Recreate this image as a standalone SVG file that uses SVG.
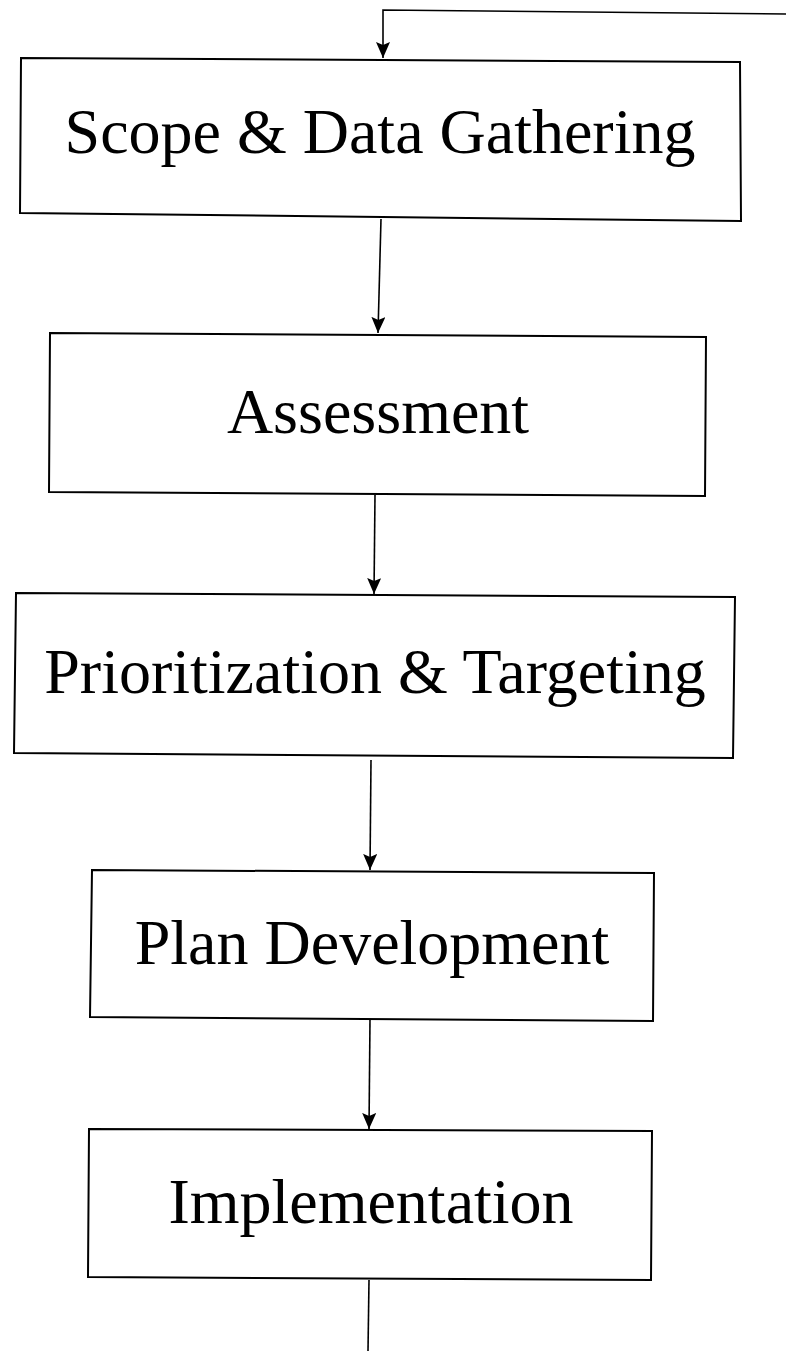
<svg xmlns="http://www.w3.org/2000/svg" width="786" height="1351" viewBox="0 0 786 1351">
  <style>
    .box { fill: #ffffff; stroke: #000000; stroke-width: 2; stroke-linejoin: miter; }
    .label { font-family: "Liberation Serif", "Times New Roman", serif; font-size: 64px; fill: #000000; text-anchor: middle; }
    .edge { fill: none; stroke: #000000; stroke-width: 1.6; }
  </style>
  <defs>
    <!-- filled arrowhead, 16 long and 14 wide -->
    <marker id="arrow" markerUnits="userSpaceOnUse" markerWidth="16" markerHeight="14" viewBox="0 0 16 14" refX="16" refY="7" orient="auto">
      <path d="M0,0 L16,7 L0,14 L3,7 Z" fill="#000000"/>
    </marker>
  </defs>
  <rect width="786" height="1351" fill="#ffffff"/>

  <g id="connectors">
    <polyline class="edge" points="786,14 383,10 383,58" marker-end="url(#arrow)"/>
    <line class="edge" x1="381" y1="219" x2="378" y2="333" marker-end="url(#arrow)"/>
    <line class="edge" x1="375" y1="495" x2="374" y2="594" marker-end="url(#arrow)"/>
    <line class="edge" x1="371" y1="760" x2="370" y2="870" marker-end="url(#arrow)"/>
    <line class="edge" x1="370" y1="1019" x2="369" y2="1129" marker-end="url(#arrow)"/>
    <line class="edge" x1="369" y1="1280" x2="368" y2="1351"/>
  </g>

  <g id="scope">
    <polygon class="box" points="21,58 740,62 741,221 20,213"/>
    <text class="label" x="380" y="153">Scope &amp; Data Gathering</text>
  </g>
  <g id="assessment">
    <polygon class="box" points="50,333 706,337 705,496 49,492"/>
    <text class="label" x="378" y="433">Assessment</text>
  </g>
  <g id="prioritization">
    <polygon class="box" points="16,593 735,597 733,758 14,753"/>
    <text class="label" x="375" y="693">Prioritization &amp; Targeting</text>
  </g>
  <g id="plan">
    <polygon class="box" points="92,870 654,873 653,1021 90,1017"/>
    <text class="label" x="372" y="964">Plan Development</text>
  </g>
  <g id="implementation">
    <polygon class="box" points="89,1129 652,1131 651,1280 88,1277"/>
    <text class="label" x="371" y="1223">Implementation</text>
  </g>
</svg>
